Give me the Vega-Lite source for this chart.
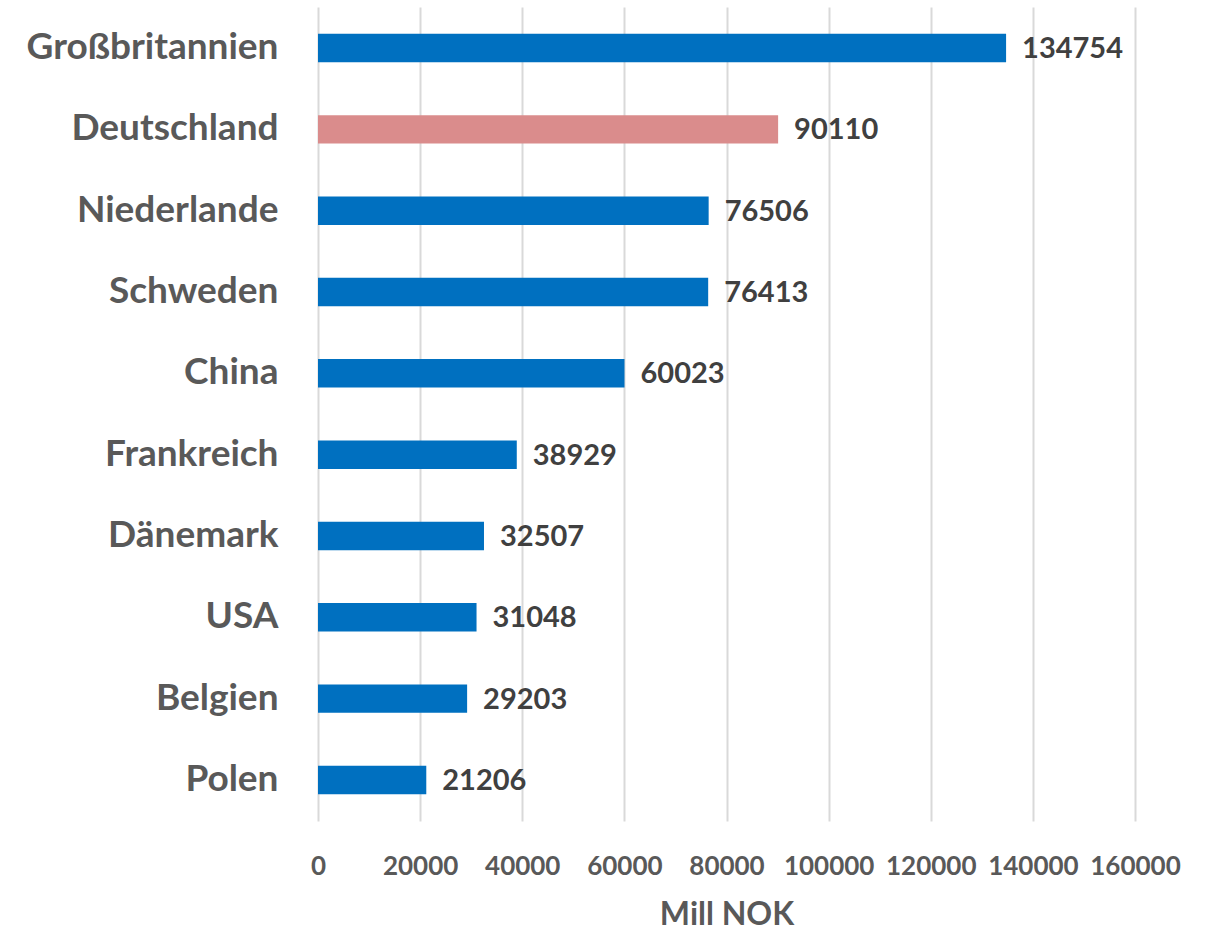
{
  "$schema": "https://vega.github.io/schema/vega-lite/v6.json",
  "autosize": {"type": "none"},
  "padding": {"left": 318, "top": 7, "right": 80, "bottom": 117},
  "width": 817,
  "height": 814,
  "background": "white",
  "data": {"values": [
    {"land": "Großbritannien", "wert": 134754},
    {"land": "Deutschland", "wert": 90110},
    {"land": "Niederlande", "wert": 76506},
    {"land": "Schweden", "wert": 76413},
    {"land": "China", "wert": 60023},
    {"land": "Frankreich", "wert": 38929},
    {"land": "Dänemark", "wert": 32507},
    {"land": "USA", "wert": 31048},
    {"land": "Belgien", "wert": 29203},
    {"land": "Polen", "wert": 21206}
  ]},
  "config": {
    "view": {"stroke": null},
    "font": "Lato"
  },
  "encoding": {
    "y": {
      "field": "land", "type": "nominal", "sort": null,
      "scale": {"paddingInner": 0.65, "paddingOuter": 0.33},
      "axis": {
        "title": null, "domain": false, "ticks": false, "grid": false,
        "labelFont": "Lato", "labelFontSize": 37, "labelFontWeight": "bold",
        "labelColor": "#595959", "labelPadding": 40, "labelLimit": 400
      }
    },
    "x": {
      "field": "wert", "type": "quantitative",
      "scale": {"domain": [0, 160000], "nice": false},
      "axis": {
        "title": "Mill NOK", "values": [0, 20000, 40000, 60000, 80000, 100000, 120000, 140000, 160000],
        "format": "d", "domain": false, "ticks": false, "labelFlush": false,
        "grid": true, "gridColor": "#D9D9D9", "gridWidth": 2,
        "labelFont": "Lato", "labelFontSize": 26, "labelFontWeight": "bold",
        "labelColor": "#595959", "labelPadding": 32, "labelOverlap": false,
        "titleFont": "Lato", "titleFontSize": 32, "titleFontWeight": "bold",
        "titleColor": "#595959", "titlePadding": 20
      }
    }
  },
  "layer": [
    {
      "mark": {"type": "bar"},
      "encoding": {
        "color": {
          "condition": {"test": "datum.land === 'Deutschland'", "value": "#DA8C8C"},
          "value": "#0070C0"
        }
      }
    },
    {
      "mark": {"type": "text", "align": "left", "baseline": "middle", "dx": 16, "dy": 1,
        "font": "Lato", "fontSize": 29, "fontWeight": "bold", "color": "#404040"},
      "encoding": {"text": {"field": "wert", "type": "quantitative", "format": "d"}}
    }
  ]
}
